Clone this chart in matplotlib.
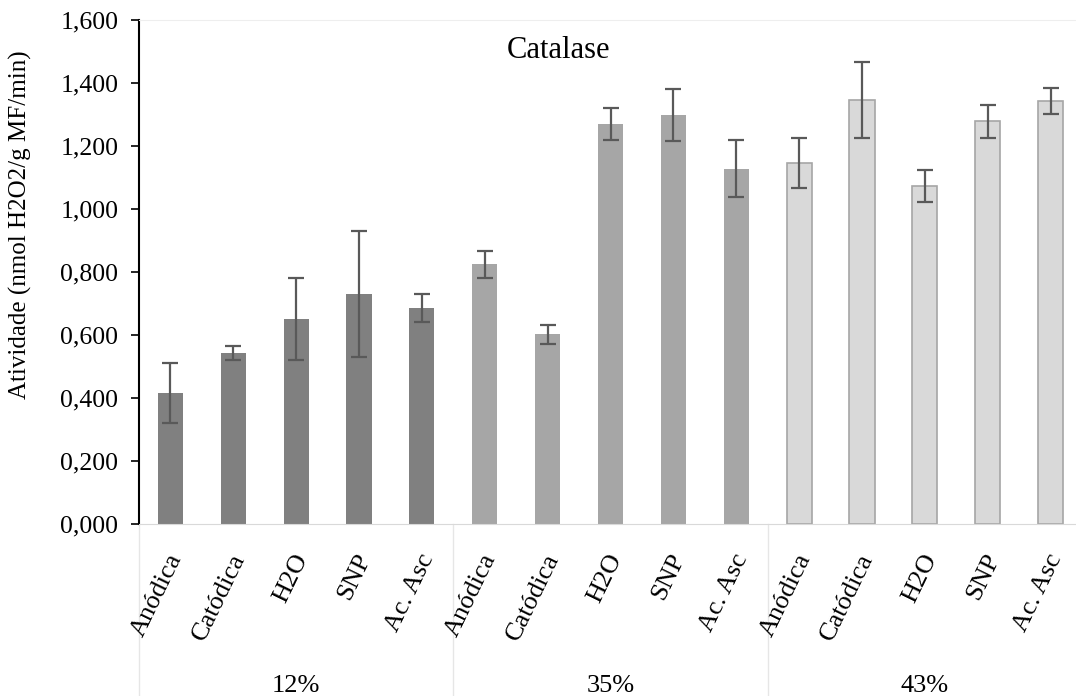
import numpy as np
import matplotlib.pyplot as plt
from matplotlib.ticker import FuncFormatter

plt.rcParams['font.family'] = ['Liberation Serif', 'DejaVu Serif']

# data
groups = ["12%", "35%", "43%"]
treatments = ["Anódica", "Catódica", "H2O", "SNP", "Ac. Asc"]
vals_12 = [0.415, 0.542, 0.650, 0.730, 0.686]
err_12 = [0.095, 0.022, 0.130, 0.200, 0.045]
vals_35 = [0.825, 0.602, 1.270, 1.298, 1.128]
err_35 = [0.043, 0.030, 0.052, 0.082, 0.090]
vals_43 = [1.146, 1.346, 1.073, 1.279, 1.343]
err_43 = [0.080, 0.120, 0.051, 0.052, 0.040]

fills = ["#808080", "#a6a6a6", "#d9d9d9"]
edges = ["#808080", "#a6a6a6", "#a6a6a6"]

fig = plt.figure(figsize=(10.76, 6.96), dpi=100)
ax = fig.add_axes([0.1292, 0.2471, 0.8764, 0.7241])

n = len(treatments)
for g, (vals, errs) in enumerate([(vals_12, err_12), (vals_35, err_35), (vals_43, err_43)]):
    x = np.arange(n) + g * n
    ax.bar(x, vals, width=0.4, color=fills[g], edgecolor=edges[g], linewidth=1.2 if g == 2 else 0)
    ax.errorbar(x, vals, yerr=errs, fmt='none', ecolor="#595959", elinewidth=1.6,
                capsize=5.8, capthick=1.6)

ax.set_xlim(-0.5, 3 * n - 0.5)
ax.set_ylim(0, 1.6)
ax.set_yticks(np.arange(0, 1.61, 0.2))
ax.yaxis.set_major_formatter(FuncFormatter(lambda v, p: f"{v:.3f}".replace(".", ",")))
ax.tick_params(axis='y', labelsize=18.5, length=6, width=1.2, direction='out', pad=9)
ax.set_xticks([])

ax.spines['right'].set_visible(False)
ax.spines['top'].set_color("#eeeeee")
ax.spines['bottom'].set_color("#d9d9d9")
ax.spines['left'].set_linewidth(1.5)

# category labels
for g in range(3):
    for i, t in enumerate(treatments):
        xi = g * n + i
        ax.text(xi - 0.06, -0.052, t, rotation=64, ha='right', va='top',
                rotation_mode='anchor', fontsize=19, transform=ax.get_xaxis_transform())
    ax.text(g * n + (n - 1) / 2, -0.3, groups[g], ha='center', va='top', fontsize=19,
            transform=ax.get_xaxis_transform())

# group separators
for g in range(4):
    ax.plot([g * n - 0.5] * 2, [0, -0.345], color="#e6e6e6", lw=1, clip_on=False,
            transform=ax.get_xaxis_transform())

ax.text(0.445, 0.94, "Catalase", transform=ax.transAxes, ha='center', va='center', fontsize=22)
ax.set_ylabel("Atividade (nmol H2O2/g MF/min)", fontsize=18)
ax.yaxis.set_label_coords(-0.113, 0.593)

fig.savefig("out.png", dpi=100)
